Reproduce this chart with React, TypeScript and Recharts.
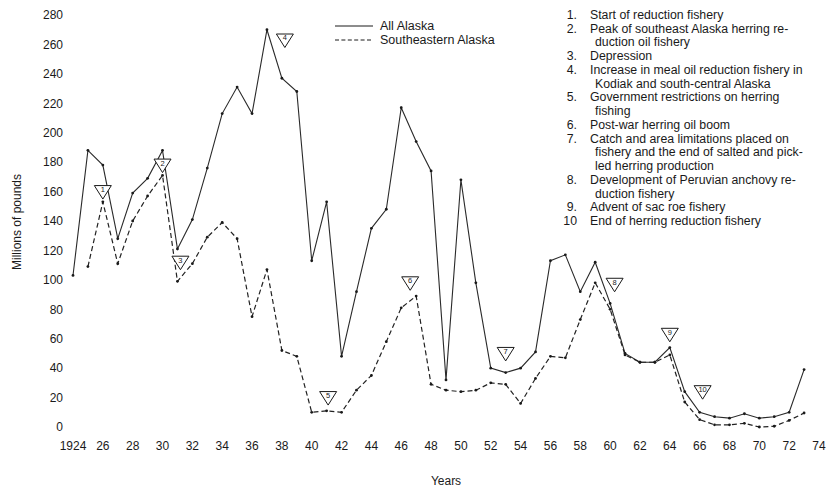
import React from "react";
import { ComposedChart, Line, Scatter, XAxis, YAxis, Legend, Label } from "recharts";

const years = [
  1924, 1925, 1926, 1927, 1928, 1929, 1930, 1931, 1932, 1933,
  1934, 1935, 1936, 1937, 1938, 1939, 1940, 1941, 1942, 1943,
  1944, 1945, 1946, 1947, 1948, 1949, 1950, 1951, 1952, 1953,
  1954, 1955, 1956, 1957, 1958, 1959, 1960, 1961, 1962, 1963,
  1964, 1965, 1966, 1967, 1968, 1969, 1970, 1971, 1972, 1973,
];

const allAlaska = [
  103, 188, 178, 128, 159, 169, 188, 121, 141, 176,
  213, 231, 213, 270, 237, 228, 113, 153, 48, 92,
  135, 148, 217, 194, 174, 32, 168, 98, 40, 37,
  40, 51, 113, 117, 92, 112, 84, 50, 44, 44,
  54, 24, 10, 7, 6, 9, 6, 7, 10, 39,
];

const southeastAlaska = [
  null, 109, 153, 111, 140, 157, 171, 99, 111, 129,
  139, 128, 75, 107, 52, 48, 10, 11, 10, 25,
  35, 58, 81, 89, 29, 25, 24, 25, 30, 29,
  16, 33, 48, 47, 73, 98, 80, 49, 44, 44,
  49, 17, 5, 1.5, 1.5, 2.5, 0, 0.5, 4.5, 9.5,
];

const xTicks = [
  1924, 1926, 1928, 1930, 1932, 1934, 1936, 1938, 1940, 1942, 1944, 1946, 1948,
  1950, 1952, 1954, 1956, 1958, 1960, 1962, 1964, 1966, 1968, 1970, 1972, 1974,
];
const yTicks = [0, 20, 40, 60, 80, 100, 120, 140, 160, 180, 200, 220, 240, 260, 280];

// event markers (numbered triangles)
const markerLabels = ["1", "2", "3", "4", "5", "6", "7", "8", "9", "10"];
const markerYears = [1926, 1930, 1931.2, 1938.2, 1941.1, 1946.6, 1953, 1960.3, 1964, 1966.2];
const markerValues = [160, 178, 112, 263, 20, 98, 50, 97, 63, 24];

const notes = [
  { num: "1.", lines: ["Start of reduction fishery"] },
  { num: "2.", lines: ["Peak of southeast Alaska herring re-", "duction oil fishery"] },
  { num: "3.", lines: ["Depression"] },
  { num: "4.", lines: ["Increase in meal oil reduction fishery in", "Kodiak and south-central Alaska"] },
  { num: "5.", lines: ["Government restrictions on herring", "fishing"] },
  { num: "6.", lines: ["Post-war herring oil boom"] },
  {
    num: "7.",
    lines: [
      "Catch and area limitations placed on",
      "fishery and the end of salted and pick-",
      "led herring production",
    ],
  },
  { num: "8.", lines: ["Development of Peruvian anchovy re-", "duction fishery"] },
  { num: "9.", lines: ["Advent of sac roe fishery"] },
  { num: "10", lines: ["End of herring reduction fishery"] },
];

const rows = years.map((year, i) => ({
  year,
  all: allAlaska[i],
  southeast: southeastAlaska[i],
}));

const markers = markerYears.map((year, i) => ({
  year,
  value: markerValues[i],
  label: markerLabels[i],
}));

const FONT = '"Liberation Sans", Arial, Helvetica, sans-serif';
const INK = "#1a1a1a";

function Triangle(props: any) {
  const { cx, cy, payload } = props;
  if (cx == null || cy == null) return null;
  return (
    <g>
      <path
        d={`M${cx - 8.5},${cy - 6} L${cx + 8.5},${cy - 6} L${cx},${cy + 7.5} Z`}
        fill="#fff"
        stroke={INK}
        strokeWidth={1}
      />
      <text
        x={cx}
        y={cy - 1.5}
        fontSize={7.5}
        fontFamily={FONT}
        textAnchor="middle"
        dominantBaseline="middle"
        fill={INK}
      >
        {payload.label}
      </text>
    </g>
  );
}

function LegendBox({ payload }: any) {
  const items = (payload || []).filter((p: any) => p.type !== "none");
  return (
    <div style={{ fontFamily: FONT, fontSize: 12.5, color: INK }}>
      {items.map((entry: any) => (
        <div key={entry.value} style={{ display: "flex", alignItems: "center", height: 14 }}>
          <svg width={38} height={4} style={{ marginRight: 7 }}>
            <line
              x1={0}
              y1={2}
              x2={38}
              y2={2}
              stroke={INK}
              strokeWidth={1}
              strokeDasharray={entry.payload?.strokeDasharray ? "4 2.4" : undefined}
            />
          </svg>
          <span>{entry.value}</span>
        </div>
      ))}
    </div>
  );
}

export default function App() {
  return (
    <div style={{ position: "absolute", left: 0, top: 0, width: 830, height: 487, background: "#fff" }}>
      <ComposedChart
        width={830}
        height={487}
        data={rows}
        margin={{ top: 15, right: 11, bottom: 0, left: 0 }}
      >
        <XAxis
          dataKey="year"
          type="number"
          domain={[1924, 1974]}
          ticks={xTicks}
          interval={0}
          axisLine={false}
          tickLine={false}
          tickSize={0}
          tickMargin={14}
          height={60}
          tick={{ fontSize: 12, fill: INK, fontFamily: FONT }}
          tickFormatter={(v) => (v === 1924 ? "1924" : String(v).slice(2))}
        >
          <Label
            value="Years"
            position="insideBottom"
            offset={2}
            style={{ fontSize: 12, fill: INK, fontFamily: FONT }}
          />
        </XAxis>
        <YAxis
          type="number"
          domain={[0, 280]}
          ticks={yTicks}
          interval={0}
          axisLine={false}
          tickLine={false}
          tickSize={0}
          tickMargin={10}
          width={73}
          tick={{ fontSize: 12, fill: INK, fontFamily: FONT }}
        />
        <Legend
          layout="vertical"
          align="center"
          verticalAlign="middle"
          wrapperStyle={{ left: 335, top: 19, width: 200, height: 30 }}
          content={<LegendBox />}
        />
        <Line
          type="linear"
          dataKey="all"
          name="All Alaska"
          stroke="#2a2a2a"
          strokeWidth={1.1}
          dot={{ r: 1.4, fill: INK, stroke: "none" }}
          isAnimationActive={false}
        />
        <Line
          type="linear"
          dataKey="southeast"
          name="Southeastern Alaska"
          stroke="#222"
          strokeWidth={1.2}
          strokeDasharray="5 3"
          dot={{ r: 1.4, fill: INK, stroke: "none" }}
          isAnimationActive={false}
        />
        <Scatter
          data={markers}
          dataKey="value"
          legendType="none"
          shape={<Triangle />}
          isAnimationActive={false}
        />
      </ComposedChart>

      <div
        style={{
          position: "absolute",
          left: 17,
          top: 222,
          transform: "translate(-50%, -50%) rotate(-90deg)",
          whiteSpace: "nowrap",
          fontFamily: FONT,
          fontSize: 12,
          color: INK,
        }}
      >
        Millions of pounds
      </div>

      <div
        style={{
          position: "absolute",
          left: 550,
          top: 9,
          fontFamily: FONT,
          fontSize: 12.3,
          lineHeight: "13.73px",
          color: INK,
          whiteSpace: "nowrap",
        }}
      >
        {notes.map((n) => (
          <div key={n.num} style={{ display: "flex" }}>
            <span style={{ width: 27, textAlign: "right", marginRight: 13 }}>{n.num}</span>
            <div>
              {n.lines.map((line, j) => (
                <div key={j} style={{ paddingLeft: j === 0 ? 0 : 5 }}>
                  {line}
                </div>
              ))}
            </div>
          </div>
        ))}
      </div>
    </div>
  );
}
